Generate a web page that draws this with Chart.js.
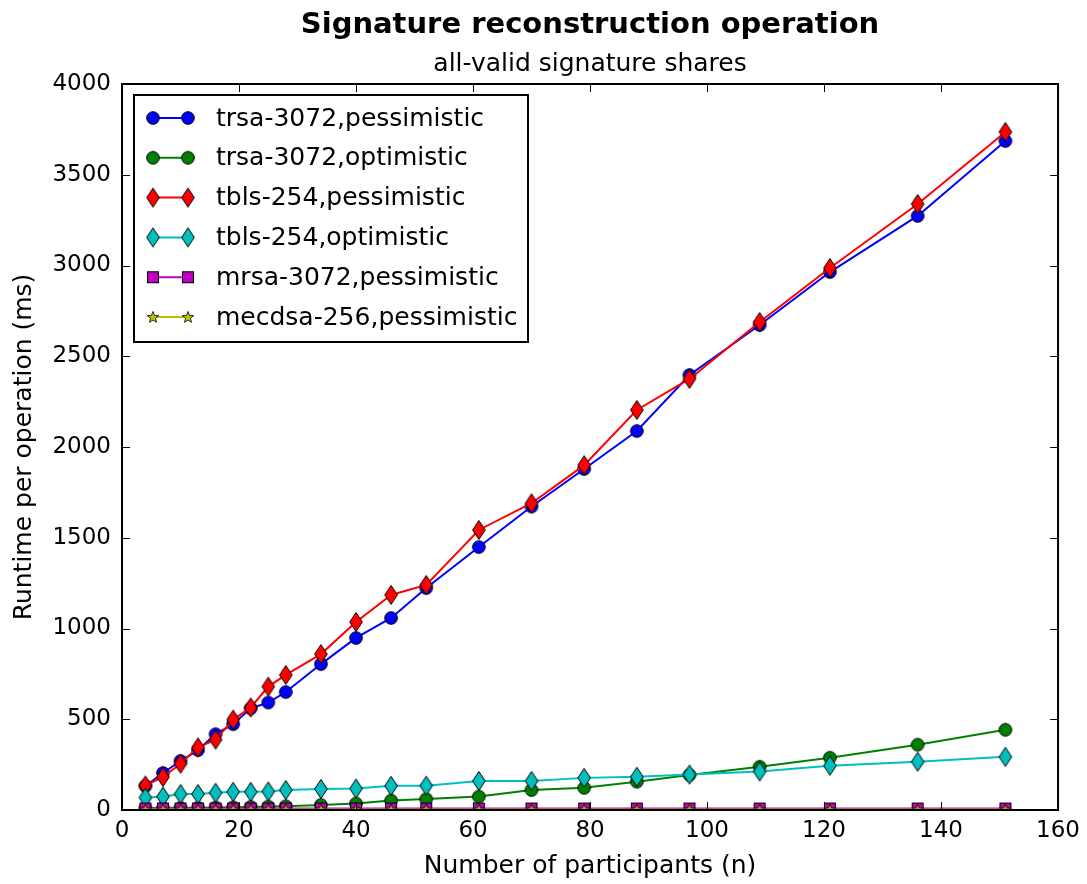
<!DOCTYPE html>
<html><head><meta charset="utf-8">
<script src="https://cdn.jsdelivr.net/npm/chart.js@4/dist/chart.umd.min.js"></script>
<style>html,body{margin:0;padding:0;background:#fff;overflow:hidden;}</style>
</head><body>
<canvas id="c" width="1087" height="884"></canvas>
<script>
const chartTitle = "Signature reconstruction operation";
const chartSubtitle = "all-valid signature shares";
const xAxisTitle = "Number of participants (n)";
const yAxisTitle = "Runtime per operation (ms)";
const seriesLabels = ["trsa-3072,pessimistic","trsa-3072,optimistic","tbls-254,pessimistic","tbls-254,optimistic","mrsa-3072,pessimistic","mecdsa-256,pessimistic"];
const participants = [4,7,10,13,16,19,22,25,28,34,40,46,52,61,70,79,88,97,109,121,136,151];
const trsaPessimistic = [132,204,270,330,418,473,560,592,650,804,948,1058,1223,1449,1672,1879,2088,2397,2672,2964,3273,3686];
const trsaOptimistic = [10,11,12,13,14,15,17,19,21,28,36,52,60,74,110,122,156,193,238,288,360,442];
const tblsPessimistic = [135,182,255,345,388,498,565,680,744,859,1036,1185,1240,1543,1690,1900,2204,2375,2689,2986,3339,3736];
const tblsOptimistic = [68,74,88,88,95,100,100,102,110,116,118,133,134,160,160,177,183,195,212,244,266,293];
const mrsaPessimistic = [8,8,8,8,8,8,8,8,8,8,8,8,8,8,8,8,8,8,8,8,8,8];
const mecdsaPessimistic = [3,3,3,3,3,3,3,3,3,3,3,3,3,3,3,3,3,3,3,3,3,3];
const xTicksMin = 0, xTicksMax = 160, xTickStep = 20;
const yTicksMin = 0, yTicksMax = 4000, yTickStep = 500;

const FONT = "'DejaVu Sans', 'Liberation Sans', sans-serif";

function makeCanvas(w, h, draw) {
  const c = document.createElement('canvas');
  c.width = w; c.height = h;
  draw(c.getContext('2d'));
  return c;
}
function circleMarker(col) {
  return makeCanvas(16, 16, g => {
    g.beginPath(); g.arc(8, 8, 6.3, 0, Math.PI * 2);
    g.fillStyle = col; g.fill(); g.lineWidth = 1; g.strokeStyle = '#000'; g.stroke();
  });
}
function diamondMarker(col) {
  return makeCanvas(16, 22, g => {
    g.beginPath(); g.moveTo(8, 1.5); g.lineTo(14.3, 11); g.lineTo(8, 20.5); g.lineTo(1.7, 11); g.closePath();
    g.fillStyle = col; g.fill(); g.lineWidth = 1; g.strokeStyle = '#000'; g.stroke();
  });
}
function squareMarker(col) {
  return makeCanvas(14, 14, g => {
    g.fillStyle = col; g.fillRect(1.5, 1.5, 11, 11);
    g.lineWidth = 1; g.strokeStyle = '#000'; g.strokeRect(1.5, 1.5, 11, 11);
  });
}
function starMarker(col) {
  return makeCanvas(14, 14, g => {
    g.beginPath();
    for (let k = 0; k < 10; k++) {
      const r = k % 2 === 0 ? 6 : 2.6;
      const ang = -Math.PI / 2 + k * Math.PI / 5;
      const px = 7 + r * Math.cos(ang), py = 7.5 + r * Math.sin(ang);
      if (k === 0) g.moveTo(px, py); else g.lineTo(px, py);
    }
    g.closePath();
    g.fillStyle = col; g.fill(); g.lineWidth = 0.8; g.strokeStyle = '#000'; g.stroke();
  });
}

const seriesValues = [trsaPessimistic, trsaOptimistic, tblsPessimistic, tblsOptimistic, mrsaPessimistic, mecdsaPessimistic];
const seriesColors = ['#0000ff', '#008000', '#ff0000', '#00bfbf', '#bf00bf', '#bfbf00'];
const markerMakers = [circleMarker, circleMarker, diamondMarker, diamondMarker, squareMarker, starMarker];

const datasets = seriesValues.map((vals, i) => ({
  label: seriesLabels[i],
  data: participants.map((n, j) => ({ x: n, y: vals[j] })),
  borderColor: seriesColors[i],
  backgroundColor: seriesColors[i],
  borderWidth: 2,
  pointStyle: markerMakers[i](seriesColors[i]),
  pointRadius: 6,
  tension: 0,
  clip: 0,
  order: 5 - i
}));

const decor = {
  id: 'decor',
  afterDraw(chart) {
    const { ctx, chartArea: a, scales: { x, y } } = chart;
    ctx.save();
    ctx.strokeStyle = '#000';
    ctx.lineWidth = 1;
    const L = 8;
    ctx.beginPath();
    x.ticks.forEach(t => {
      const px = Math.round(x.getPixelForValue(t.value)) + 0.5;
      ctx.moveTo(px, a.bottom); ctx.lineTo(px, a.bottom - L);
      ctx.moveTo(px, a.top); ctx.lineTo(px, a.top + L);
    });
    y.ticks.forEach(t => {
      const py = Math.round(y.getPixelForValue(t.value)) + 0.5;
      ctx.moveTo(a.left, py); ctx.lineTo(a.left + L, py);
      ctx.moveTo(a.right, py); ctx.lineTo(a.right - L, py);
    });
    ctx.stroke();
    ctx.lineWidth = 2;
    ctx.strokeRect(a.left, a.top, a.right - a.left, a.bottom - a.top);

    // titles
    ctx.fillStyle = '#000';
    ctx.textAlign = 'center';
    ctx.textBaseline = 'alphabetic';
    ctx.font = "bold 29px " + FONT;
    ctx.fillText(chartTitle, (a.left + a.right) / 2, 33);
    ctx.font = "25px " + FONT;
    ctx.fillText(chartSubtitle, (a.left + a.right) / 2, 71);
    ctx.fillText(xAxisTitle, (a.left + a.right) / 2, 873);
    ctx.save();
    ctx.translate(31, (a.top + a.bottom) / 2);
    ctx.rotate(-Math.PI / 2);
    ctx.fillText(yAxisTitle, 0, 0);
    ctx.restore();

    // legend
    const bx = 134, by = 95, bw = 394, bh = 247;
    ctx.fillStyle = '#fff';
    ctx.fillRect(bx, by, bw, bh);
    ctx.lineWidth = 2;
    ctx.strokeStyle = '#000';
    ctx.strokeRect(bx, by, bw, bh);
    ctx.font = "25px " + FONT;
    ctx.textAlign = 'left';
    ctx.textBaseline = 'middle';
    chart.data.datasets.forEach((ds, i) => {
      const cy = 118 + i * 39.8;
      ctx.strokeStyle = ds.borderColor;
      ctx.lineWidth = 2;
      ctx.beginPath(); ctx.moveTo(153, cy); ctx.lineTo(188, cy); ctx.stroke();
      const m = ds.pointStyle;
      ctx.drawImage(m, 153 - m.width / 2, cy - m.height / 2);
      ctx.drawImage(m, 188 - m.width / 2, cy - m.height / 2);
      ctx.fillStyle = '#000';
      ctx.fillText(ds.label, 216, cy + 1);
    });
    ctx.restore();
  }
};

new Chart(document.getElementById('c'), {
  type: 'line',
  data: { datasets },
  plugins: [decor],
  options: {
    responsive: false,
    animation: false,
    events: [],
    layout: { padding: { top: 84, right: 26, left: 0, bottom: 0 } },
    plugins: { legend: { display: false }, tooltip: { enabled: false }, title: { display: false } },
    scales: {
      x: {
        type: 'linear', min: xTicksMin, max: xTicksMax,
        ticks: { stepSize: xTickStep, color: '#000', font: { family: FONT, size: 23 }, padding: 7, maxRotation: 0,
                 callback: v => String(v) },
        grid: { display: false, drawTicks: false },
        border: { display: false },
        afterFit(s) { s.height = 74; }
      },
      y: {
        type: 'linear', min: yTicksMin, max: yTicksMax,
        ticks: { stepSize: yTickStep, color: '#000', font: { family: FONT, size: 23 }, padding: 11,
                 callback: v => String(v) },
        grid: { display: false, drawTicks: false },
        border: { display: false },
        afterFit(s) { s.width = 122; }
      }
    }
  }
});
</script>
</body></html>
